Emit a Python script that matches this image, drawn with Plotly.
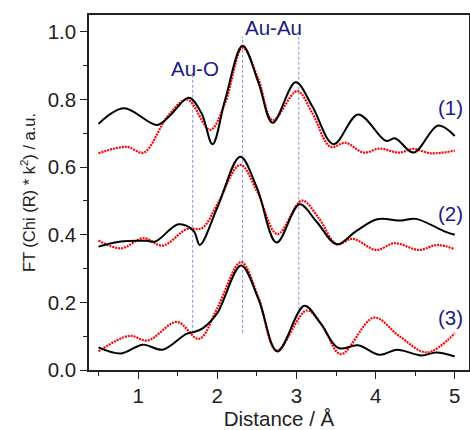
import plotly.graph_objects as go

# ---- data ----
x1_black = [0.5, 0.82, 1.24, 1.40, 1.64, 1.80, 1.94, 2.10, 2.32, 2.52, 2.70, 2.99, 3.20, 3.47, 3.78, 4.13, 4.25, 4.48, 4.79, 5.0]
y1_black = [0.728, 0.774, 0.725, 0.752, 0.805, 0.760, 0.668, 0.800, 0.959, 0.850, 0.731, 0.851, 0.780, 0.668, 0.756, 0.678, 0.685, 0.643, 0.723, 0.692]
x1_red = [0.5, 0.86, 1.07, 1.37, 1.62, 1.91, 2.10, 2.32, 2.52, 2.70, 3.01, 3.20, 3.43, 3.62, 3.85, 4.05, 4.30, 4.47, 4.70, 5.0]
y1_red = [0.641, 0.660, 0.643, 0.749, 0.800, 0.710, 0.790, 0.953, 0.860, 0.739, 0.825, 0.760, 0.660, 0.672, 0.643, 0.655, 0.643, 0.654, 0.641, 0.649]

x2_black = [0.5, 0.78, 1.11, 1.22, 1.51, 1.70, 1.78, 2.00, 2.29, 2.50, 2.75, 3.04, 3.25, 3.51, 3.75, 4.02, 4.32, 4.51, 4.87, 5.0]
y2_black = [0.365, 0.380, 0.382, 0.380, 0.431, 0.412, 0.370, 0.480, 0.631, 0.540, 0.377, 0.490, 0.440, 0.372, 0.410, 0.446, 0.442, 0.447, 0.410, 0.400]
x2_red = [0.5, 0.785, 1.07, 1.31, 1.62, 1.81, 2.00, 2.29, 2.50, 2.76, 3.07, 3.28, 3.51, 3.71, 4.01, 4.24, 4.55, 4.78, 5.0]
y2_red = [0.383, 0.360, 0.390, 0.368, 0.417, 0.420, 0.490, 0.607, 0.530, 0.402, 0.501, 0.450, 0.372, 0.388, 0.355, 0.375, 0.355, 0.370, 0.357]

x3_black = [0.5, 0.785, 1.06, 1.31, 1.61, 1.70, 1.82, 2.00, 2.30, 2.52, 2.76, 3.10, 3.30, 3.53, 3.78, 4.05, 4.27, 4.58, 4.77, 5.0]
y3_black = [0.067, 0.049, 0.075, 0.060, 0.107, 0.112, 0.124, 0.168, 0.309, 0.210, 0.055, 0.190, 0.140, 0.065, 0.073, 0.045, 0.060, 0.043, 0.052, 0.040]
x3_red = [0.5, 0.89, 1.12, 1.49, 1.77, 2.00, 2.30, 2.52, 2.75, 3.13, 3.33, 3.56, 3.98, 4.30, 4.65, 5.0]
y3_red = [0.055, 0.101, 0.087, 0.142, 0.092, 0.183, 0.319, 0.215, 0.058, 0.176, 0.130, 0.047, 0.155, 0.100, 0.052, 0.109]

bond_x = [1.69, 2.32, 3.03]
bond_y_low = [0.11, 0.11, 0.134]
bond_y_high = [0.872, 0.986, 0.986]
bond_labels = ["Au-O", "Au-Au"]
bond_label_x = [1.72, 2.71]
bond_label_y = [0.893, 1.013]
sample_labels = ["(1)", "(2)", "(3)"]
sample_label_y = [0.775, 0.463, 0.156]

x_ticks = [1, 2, 3, 4, 5]
y_ticks = [0.0, 0.2, 0.4, 0.6, 0.8, 1.0]

FONT = "Liberation Sans, Arial, sans-serif"
navy = "#1a1a8c"
fig = go.Figure()

for bx, lo, hi in zip(bond_x, bond_y_low, bond_y_high):
    fig.add_trace(go.Scatter(x=[bx, bx], y=[lo, hi], mode="lines",
                             line=dict(color="#8a8ae0", width=1, dash="3px,2px"),
                             showlegend=False, hoverinfo="skip"))

for xb, yb, xr, yr in [(x1_black, y1_black, x1_red, y1_red),
                       (x2_black, y2_black, x2_red, y2_red),
                       (x3_black, y3_black, x3_red, y3_red)]:
    fig.add_trace(go.Scatter(x=xr, y=yr, mode="lines",
                             line=dict(color="#ff0000", width=2.2, dash="2px,1px", shape="spline", smoothing=1.0),
                             showlegend=False))
    fig.add_trace(go.Scatter(x=xb, y=yb, mode="lines",
                             line=dict(color="black", width=2, shape="spline", smoothing=1.0),
                             showlegend=False))

for lab, lx, ly in zip(bond_labels, bond_label_x, bond_label_y):
    fig.add_annotation(x=lx, y=ly, text=lab, showarrow=False,
                       font=dict(size=20.5, color=navy, family=FONT))
for lab, ly in zip(sample_labels, sample_label_y):
    fig.add_annotation(x=4.94, y=ly, text=lab, showarrow=False,
                       font=dict(size=20.5, color=navy, family=FONT))

axis_common = dict(showgrid=False, zeroline=False, showline=True, linecolor="#222",
                   linewidth=1.5, mirror=True, ticks="outside", tickcolor="#222",
                   tickwidth=1.3, ticklen=7, automargin=False,
                   tickfont=dict(size=20.5, color="#222", family=FONT))

fig.update_xaxes(range=[0.38, 5.18], tickvals=x_ticks, ticktext=[str(v) for v in x_ticks],
                 minor=dict(dtick=0.5, tick0=0.5, ticks="outside", ticklen=4, tickcolor="#222", tickwidth=1.2),
                 title=dict(text="Distance / Å", standoff=12,
                            font=dict(size=20.5, color="#222", family=FONT)),
                 **axis_common)
fig.update_yaxes(range=[0, 1.05], tickvals=y_ticks, ticktext=[f"{v:.1f}" for v in y_ticks],
                 minor=dict(dtick=0.1, tick0=0, ticks="outside", ticklen=4, tickcolor="#222", tickwidth=1.2),
                 title=dict(text="FT (Chi (R) * k<sup>2</sup>) / a.u.", standoff=8,
                            font=dict(size=16.5, color="#222", family=FONT)),
                 **axis_common)

fig.update_layout(width=470, height=430, margin=dict(l=89, r=1, t=15, b=60),
                  plot_bgcolor="white", paper_bgcolor="white")

fig.write_html("out.html")
